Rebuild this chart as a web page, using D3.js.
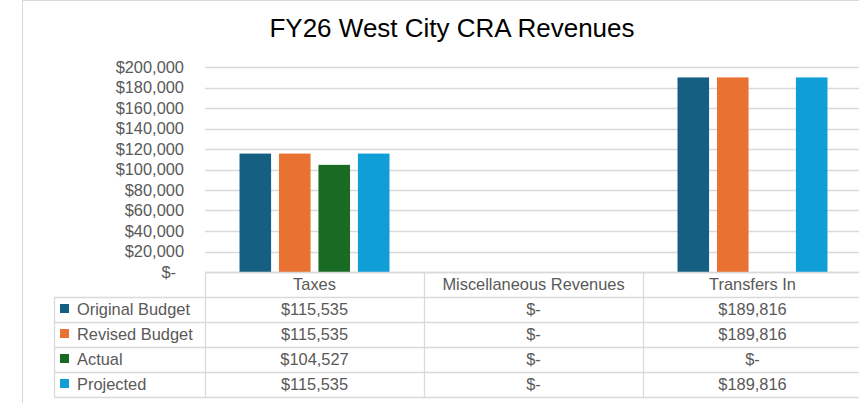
<!DOCTYPE html>
<html>
<head>
<meta charset="utf-8">
<script src="https://cdn.jsdelivr.net/npm/d3@7"></script>
<style>
  body { margin: 0; background: #fff; }
  svg { display: block; font-family: "Liberation Sans", Arial, sans-serif; }
</style>
</head>
<body>
<script>
// data
var categories = ["Taxes", "Miscellaneous Revenues", "Transfers In"];
var seriesNames = ["Original Budget", "Revised Budget", "Actual", "Projected"];
var seriesColors = ["#156082", "#E97132", "#196B24", "#0F9ED5"];
var originalBudget = [115535, 0, 189816];
var revisedBudget = [115535, 0, 189816];
var actual = [104527, 0, 0];
var projected = [115535, 0, 189816];
var yTicks = [0, 20000, 40000, 60000, 80000, 100000, 120000, 140000, 160000, 180000, 200000];

var seriesValues = [originalBudget, revisedBudget, actual, projected];

var W = 859, H = 403;
var plotLeft = 205, plotRight = 862, plotTop = 67, plotBottom = 272;
var rowH = 25;
var legendLeft = 54;
var textColor = "#595959";
var lineColor = "#d9d9d9";
var fs = "16.4px";

var svg = d3.select("body").append("svg")
  .attr("width", W)
  .attr("height", H);

// outer chart border
svg.append("rect")
  .attr("x", 22.5).attr("y", 0.5)
  .attr("width", 900).attr("height", 500)
  .attr("fill", "#fff")
  .attr("stroke", lineColor);

// title
svg.append("text")
  .attr("x", 452).attr("y", 37)
  .attr("text-anchor", "middle")
  .attr("font-size", "26px")
  .attr("fill", "#000")
  .text("FY26 West City CRA Revenues");

// scales
var x0 = d3.scaleBand().domain(categories).range([plotLeft, plotRight]);
var x1 = d3.scaleBand().domain(seriesNames)
  .range([34.5, x0.bandwidth() - 34.5])
  .paddingInner(0.2);
var y = d3.scaleLinear().domain([0, 200000]).range([plotBottom, plotTop]);

function money(v) {
  return v === 0 ? "$-" : "$" + d3.format(",")(v);
}

// gridlines
svg.append("g").selectAll("line")
  .data(yTicks)
  .enter().append("line")
  .attr("x1", plotLeft).attr("x2", plotRight)
  .attr("y1", function(d) { return Math.round(y(d)) + 0.5; })
  .attr("y2", function(d) { return Math.round(y(d)) + 0.5; })
  .attr("stroke", lineColor)
  .attr("stroke-width", 1.3);

// y axis
var yAxis = d3.axisLeft(y).tickValues(yTicks).tickSize(0).tickPadding(0).tickFormat(money);
var yAxisGroup = svg.append("g")
  .attr("transform", "translate(184,0)")
  .call(yAxis);
yAxisGroup.select(".domain").remove();
yAxisGroup.selectAll("text")
  .attr("font-family", "\"Liberation Sans\", Arial, sans-serif")
  .attr("font-size", fs)
  .attr("fill", textColor)
  .attr("x", function(d) { return d === 0 ? -8 : 0; });

// bars
var barData = [];
categories.forEach(function(c, i) {
  seriesNames.forEach(function(s, j) {
    barData.push({cat: c, series: s, value: seriesValues[j][i], color: seriesColors[j]});
  });
});

svg.append("g").selectAll("rect")
  .data(barData.filter(function(d) { return d.value > 0; }))
  .enter().append("rect")
  .attr("x", function(d) { return x0(d.cat) + x1(d.series); })
  .attr("y", function(d) { return y(d.value); })
  .attr("width", x1.bandwidth())
  .attr("height", function(d) { return plotBottom - y(d.value); })
  .attr("fill", function(d) { return d.color; });

// data table
var table = svg.append("g");
var tableBottom = plotBottom + rowH * (seriesNames.length + 1);

// horizontal lines
d3.range(seriesNames.length + 2).forEach(function(r) {
  var yy = Math.round(plotBottom + r * rowH) + 0.5;
  table.append("line")
    .attr("x1", r === 0 ? plotLeft : legendLeft)
    .attr("x2", plotRight)
    .attr("y1", yy).attr("y2", yy)
    .attr("stroke", lineColor).attr("stroke-width", 1.3);
});

// vertical lines
table.append("line")
  .attr("x1", legendLeft + 0.5).attr("x2", legendLeft + 0.5)
  .attr("y1", plotBottom + rowH).attr("y2", tableBottom)
  .attr("stroke", lineColor).attr("stroke-width", 1.3);
categories.concat(["end"]).forEach(function(c, i) {
  var xx = Math.round(plotLeft + i * x0.bandwidth()) + 0.5;
  table.append("line")
    .attr("x1", xx).attr("x2", xx)
    .attr("y1", plotBottom).attr("y2", tableBottom)
    .attr("stroke", lineColor).attr("stroke-width", 1.3);
});

// header
table.selectAll("text.head")
  .data(categories)
  .enter().append("text")
  .attr("class", "head")
  .attr("x", function(d) { return x0(d) + x0.bandwidth() / 2; })
  .attr("y", plotBottom + rowH / 2 + 5)
  .attr("text-anchor", "middle")
  .attr("font-size", fs)
  .attr("fill", textColor)
  .text(function(d) { return d; });

// rows
seriesNames.forEach(function(s, j) {
  var cy = plotBottom + rowH * (j + 1) + rowH / 2;
  table.append("rect")
    .attr("x", 60).attr("y", cy - 5.5)
    .attr("width", 9).attr("height", 9)
    .attr("fill", seriesColors[j]);
  table.append("text")
    .attr("x", 77).attr("y", cy + 5)
    .attr("font-size", fs)
    .attr("fill", textColor)
    .text(s);
  table.selectAll("text.r" + j)
    .data(seriesValues[j])
    .enter().append("text")
    .attr("class", "r" + j)
    .attr("x", function(d, i) { return x0(categories[i]) + x0.bandwidth() / 2; })
    .attr("y", cy + 5)
    .attr("text-anchor", "middle")
    .attr("font-size", fs)
    .attr("fill", textColor)
    .text(function(d) { return money(d); });
});
</script>
</body>
</html>
